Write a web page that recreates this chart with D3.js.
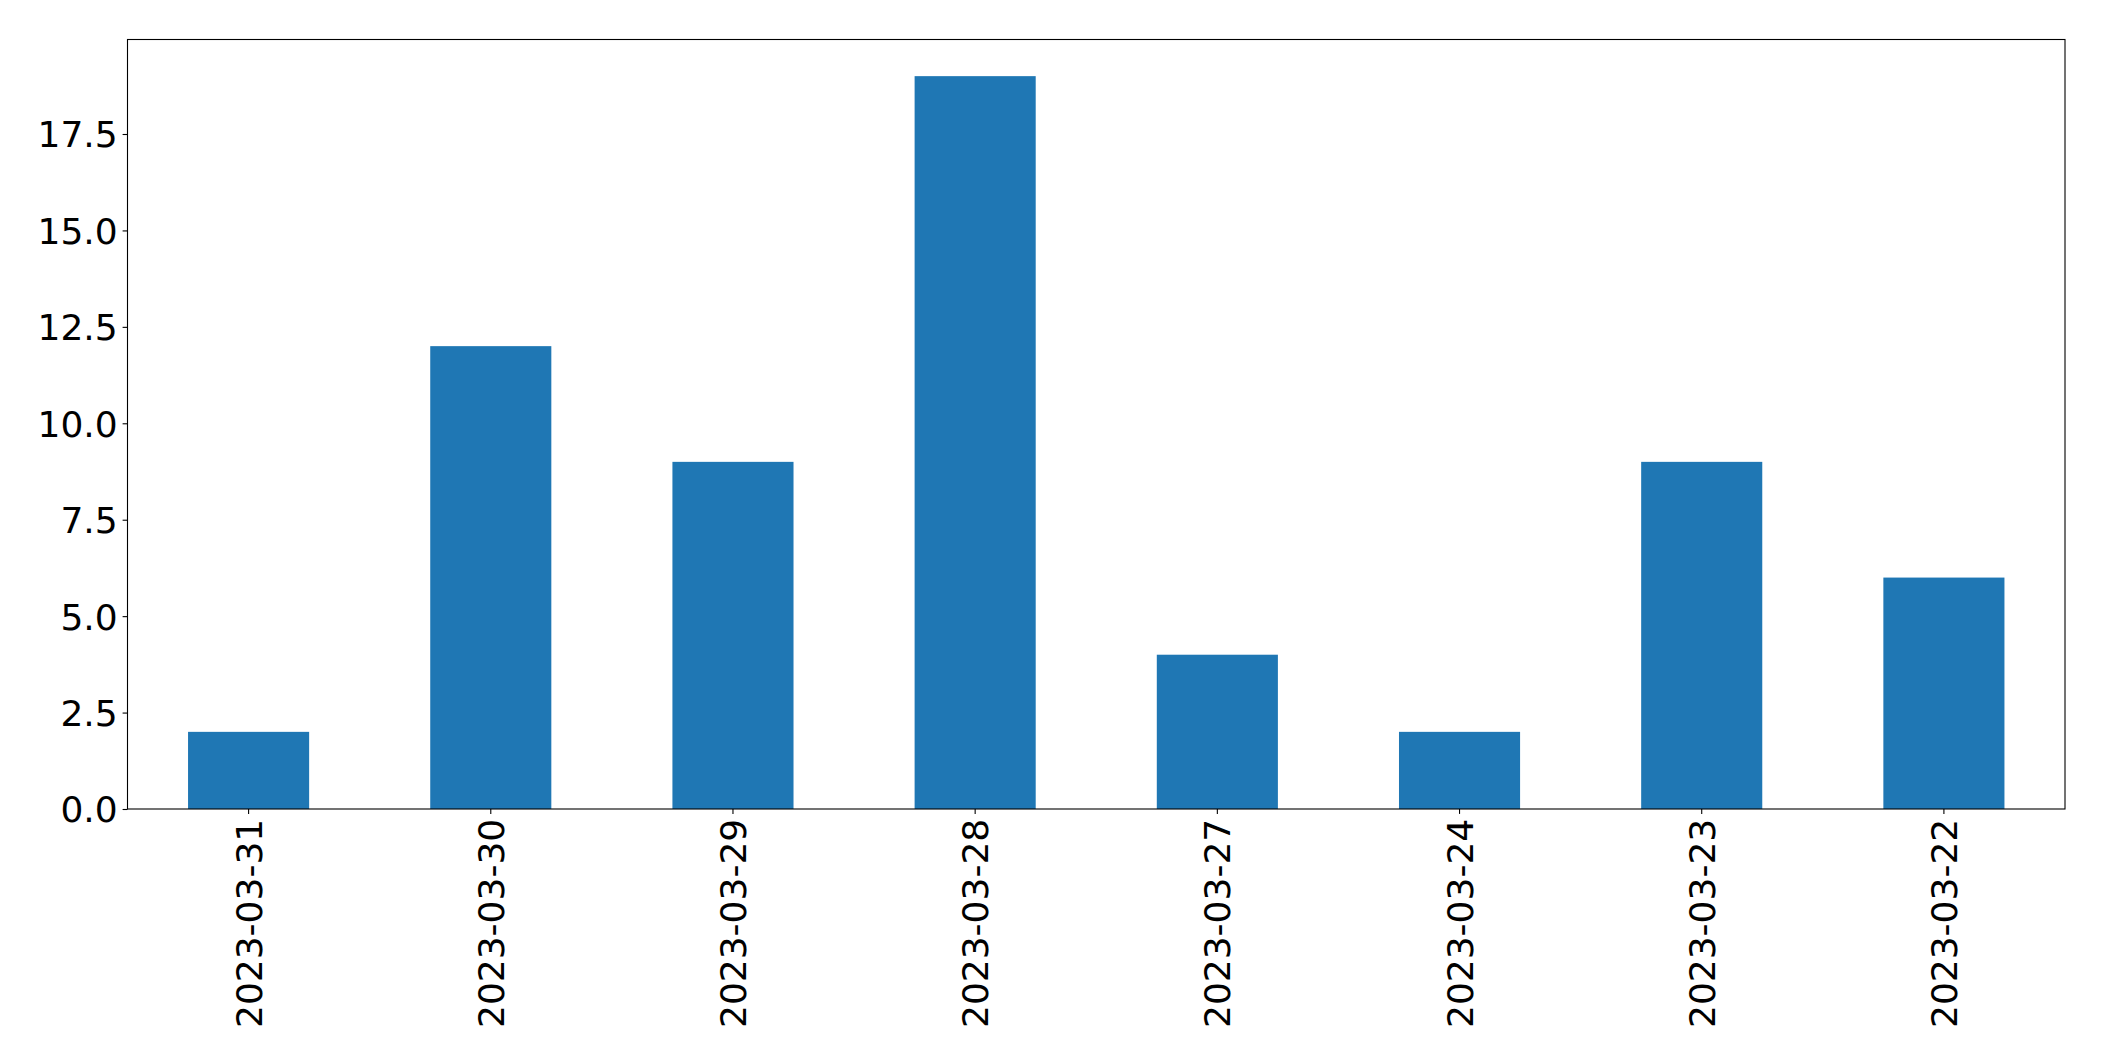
<!DOCTYPE html>
<html>
<head>
<meta charset="utf-8">
<script src="https://cdn.jsdelivr.net/npm/d3@7"></script>
<style>
  body { margin: 0; background: #fff; }
  text { font-family: "DejaVu Sans", sans-serif; fill: #000; }
</style>
</head>
<body>
<div id="chart"></div>
<script>
// Data
const dates = ["2023-03-31", "2023-03-30", "2023-03-29", "2023-03-28",
               "2023-03-27", "2023-03-24", "2023-03-23", "2023-03-22"];
const counts = [2, 12, 9, 19, 4, 2, 9, 6];
const yTicks = [0, 2.5, 5, 7.5, 10, 12.5, 15, 17.5];

const W = 2104, H = 1061;
const margin = {top: 39.5, right: 39, bottom: 252, left: 127.5};
const width = W - margin.left - margin.right;
const height = H - margin.top - margin.bottom;
const fontSize = 36;
const tickLen = 4.9, tickPad = 4.9;

const svg = d3.select("#chart")
  .append("svg")
  .attr("width", W)
  .attr("height", H);

const g = svg.append("g")
  .attr("transform", `translate(${margin.left},${margin.top})`);

// matplotlib-style: xlim -0.5..n-0.5, bar width 0.5
const x = d3.scaleBand()
  .domain(dates)
  .range([0, width])
  .paddingInner(0.5)
  .paddingOuter(0.25);

const yMax = d3.max(counts) * 1.05;
const y = d3.scaleLinear()
  .domain([0, yMax])
  .range([height, 0]);

// bars
g.append("g")
  .selectAll("rect")
  .data(dates)
  .join("rect")
  .attr("x", d => x(d))
  .attr("y", (d, i) => y(counts[i]))
  .attr("width", x.bandwidth())
  .attr("height", (d, i) => y(0) - y(counts[i]))
  .attr("fill", "#1f77b4");

// y axis
const yAxis = g.append("g")
  .call(d3.axisLeft(y).tickValues(yTicks).tickFormat(d3.format(".1f"))
    .tickSize(tickLen).tickPadding(tickPad));
yAxis.select(".domain").remove();
yAxis.selectAll("line").attr("stroke", "#000").attr("stroke-width", 1.1);
yAxis.selectAll("text")
  .style("font-size", fontSize + "px")
  .attr("dy", "0.36em");

// x axis
const xAxis = g.append("g")
  .attr("transform", `translate(0,${height})`)
  .call(d3.axisBottom(x).tickSize(tickLen).tickPadding(tickPad));
xAxis.select(".domain").remove();
xAxis.selectAll("line").attr("stroke", "#000").attr("stroke-width", 1.1);
xAxis.selectAll("text")
  .style("font-size", fontSize + "px")
  .attr("text-anchor", "end")
  .attr("transform", "rotate(-90)")
  .attr("x", -(tickLen + tickPad))
  .attr("y", 0)
  .attr("dy", "0.36em");

// frame
g.append("rect")
  .attr("width", width)
  .attr("height", height)
  .attr("fill", "none")
  .attr("stroke", "#000")
  .attr("stroke-width", 1.1);
</script>
</body>
</html>
